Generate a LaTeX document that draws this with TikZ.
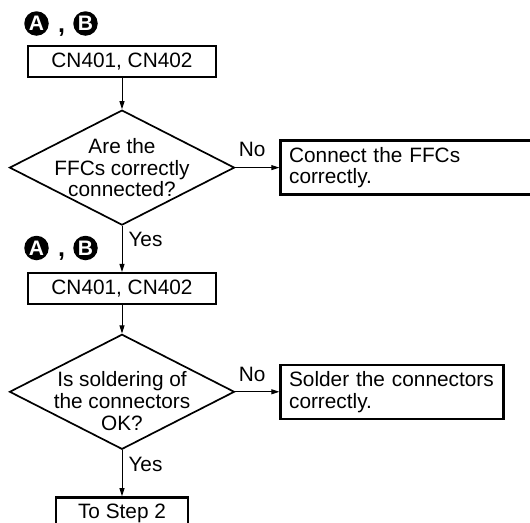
\documentclass[tikz,border=0pt]{standalone}
\usepackage{fontspec}
\setmainfont{Liberation Sans}
\usetikzlibrary{arrows.meta,positioning,shapes.geometric}

\begin{document}
\begin{tikzpicture}[x=1pt,y=-1pt,font=\fontsize{20.8}{21.8}\selectfont,
  >={Triangle[length=8pt,width=5pt]},
  box/.style={draw,line width=2.5pt,minimum height=31pt,inner sep=0pt},
  msg/.style={draw,line width=2.5pt,minimum height=54pt,inner xsep=8.5pt,inner ysep=3pt,
              align=left},
  dia/.style={draw,diamond,line width=1.7pt,minimum width=225pt,minimum height=115pt,
              inner sep=0pt},
  ask/.style={align=center,inner sep=0pt},
  circ/.style={circle,fill=black,text=white,minimum size=24.5pt,inner sep=0pt,
               font=\fontsize{21}{21}\selectfont\bfseries},
  sep/.style={anchor=base,inner sep=0pt,font=\fontsize{25}{25}\selectfont\bfseries},
  flow/.style={->,line width=1pt},
  lab/.style={inner sep=2pt}]
  \useasboundingbox (0,0) rectangle (530,522);
  % first check
  \node[circ] (a1) at (36.5,23.5) {A};
  \node[sep] (k1) at (61.5,32) {,};
  \node[circ] (b1) at (85.5,23.5) {B};
  \node[box,minimum width=188pt] (cn1) at (122,61.5) {CN401, CN402};
  \node[dia,below=31pt of cn1] (q1) {};
  \node[ask] (t1) at (q1) {Are the\\FFCs correctly\\connected?};
  \node[msg,text width=239pt,right=44pt of q1] (fix1) {Connect the FFCs\\correctly.};
  % second check
  \node[box,minimum width=188pt,below=46pt of q1] (cn2) {CN401, CN402};
  \node[circ] (a2) at (36.5,248) {A};
  \node[sep] (k2) at (61.5,256.5) {,};
  \node[circ] (b2) at (85.5,248) {B};
  \node[dia,below=28pt of cn2] (q2) {};
  \node[ask,yshift=-9.5pt] (t2) at (q2) {Is soldering of\\the connectors\\OK?};
  \node[msg,text width=206pt,right=44pt of q2] (fix2) {Solder the connectors\\correctly.};
  \node[box,minimum width=132pt,minimum height=32pt,below=46pt of q2] (next) {To Step 2};
  \draw[flow] (cn1) -- (q1);
  \draw[flow] (q1) -- node[lab,above=8pt,pos=0.38] (no1) {No} (fix1);
  \draw[flow] (q1) -- node[lab,right=4pt,pos=0.3] (yes1) {Yes} (cn2);
  \draw[flow] (cn2) -- (q2);
  \draw[flow] (q2) -- node[lab,above=8pt,pos=0.38] (no2) {No} (fix2);
  \draw[flow] (q2) -- node[lab,right=4pt,pos=0.3] (yes2) {Yes} (next);
\end{tikzpicture}
\end{document}
